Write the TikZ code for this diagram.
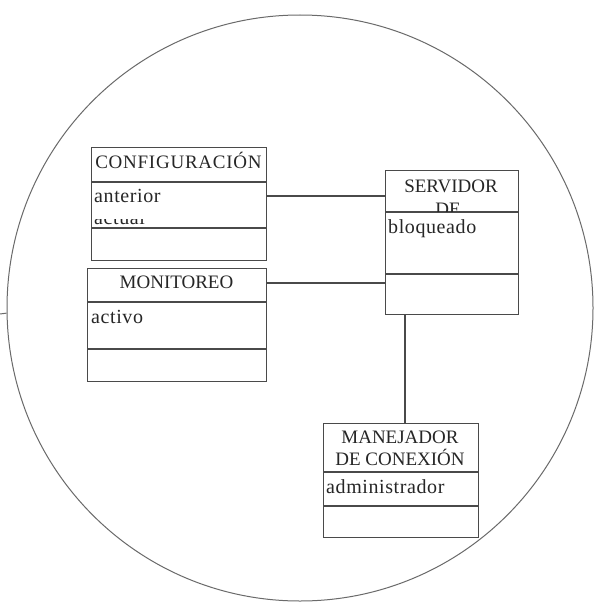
\documentclass[tikz,border=0pt]{standalone}
\usepackage{fontspec}
\setmainfont{Liberation Serif}
\definecolor{ink}{HTML}{4A4A4A}
\definecolor{txt}{HTML}{262626}
\definecolor{ringc}{HTML}{6A6A6A}
\begin{document}
\begin{tikzpicture}[x=1pt,y=-1pt,
  frame/.style={draw=ink, line width=1.3pt, inner sep=0pt, anchor=north west},
  rule/.style={draw=ink, line width=1.3pt},
  link/.style={draw=ink, line width=1.3pt},
  head/.style={text=txt, inner sep=0pt, anchor=base, font=\fontsize{19}{21}\selectfont},
  attr/.style={text=txt, inner sep=0pt, anchor=base west,
    font=\fontsize{20}{22}\selectfont\addfontfeatures{LetterSpace=3}}]
\useasboundingbox (0,0) rectangle (595,602);
\fill[white] (0,0) rectangle (595,602);

% enclosing subsystem boundary
\node[circle, draw=ringc, line width=1pt, minimum size=586pt, inner sep=0pt] (ring) at (300,308) {};
\coordinate (stub) at (0,314);
\draw[ringc, line width=1pt] (stub) -- (ring.181.2);

% CONFIGURACION class
\node[frame, minimum width=175pt, minimum height=113pt] (conf) at (91,147) {};
\draw[rule] (conf.west |- 0,182) -- (conf.east |- 0,182);
\draw[rule] (conf.west |- 0,228) -- (conf.east |- 0,228);
\node[head, font=\fontsize{19}{21}\selectfont\addfontfeatures{LetterSpace=4}] (confT) at (178.5,168) {CONFIGURACIÓN};
\node[attr] (confA) at (94,202) {anterior};
\begin{scope}
  \clip (92,219) rectangle (265,227);
  \node[attr] (confB) at (94,224) {actual};
\end{scope}

% MONITOREO class
\node[frame, minimum width=179pt, minimum height=113pt] (moni) at (87,268) {};
\draw[rule] (moni.west |- 0,302) -- (moni.east |- 0,302);
\draw[rule] (moni.west |- 0,349) -- (moni.east |- 0,349);
\node[head] (moniT) at (176.5,288) {MONITOREO};
\node[attr] (moniA) at (91,323) {activo};

% SERVIDOR class
\node[frame, minimum width=133pt, minimum height=144pt] (serv) at (385,170) {};
\draw[rule] (serv.west |- 0,212) -- (serv.east |- 0,212);
\draw[rule] (serv.west |- 0,274) -- (serv.east |- 0,274);
\node[head] (servT) at (451,192) {SERVIDOR};
\begin{scope}
  \clip (386,200) rectangle (517,211);
  \node[head] (servU) at (448,215) {DE};
\end{scope}
\node[attr] (servA) at (388,233) {bloqueado};

% MANEJADOR DE CONEXION class
\node[frame, minimum width=155pt, minimum height=114pt] (mane) at (323,423) {};
\draw[rule] (mane.west |- 0,472) -- (mane.east |- 0,472);
\draw[rule] (mane.west |- 0,506) -- (mane.east |- 0,506);
\node[head] (maneT) at (400,443) {MANEJADOR};
\node[head] (maneU) at (400,465) {DE CONEXIÓN};
\node[attr] (maneA) at (326,493) {administrador};

% associations
\draw[link] (conf.east |- 0,196) -- (serv.west |- 0,196);
\draw[link] (moni.east |- 0,283) -- (serv.west |- 0,283);
\draw[link] (serv.south -| 405,0) -- (mane.north -| 405,0);
\end{tikzpicture}
\end{document}
